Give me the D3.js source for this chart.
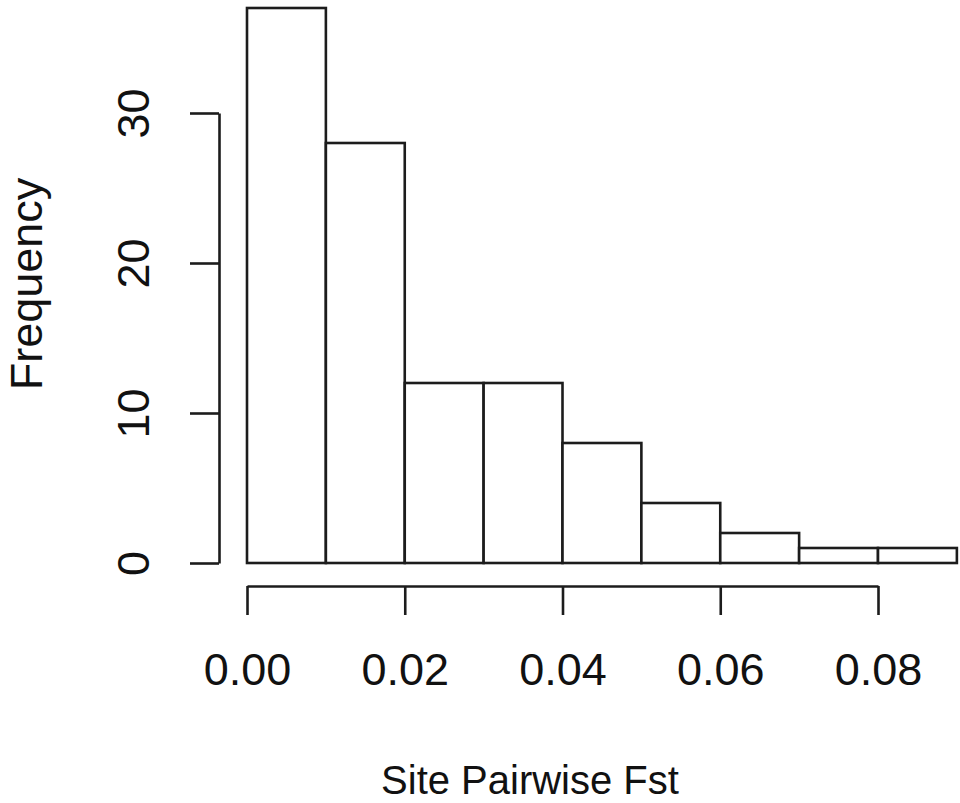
<!DOCTYPE html>
<html>
<head>
<meta charset="utf-8">
<script src="https://cdn.jsdelivr.net/npm/d3@7"></script>
<style>
  body { margin: 0; background: #fff; }
  text { font-family: "Liberation Sans", Arial, Helvetica, sans-serif; fill: #111; }
</style>
</head>
<body>
<div id="main"></div>
<script>
// histogram bins and counts
const binEdges = [0, 0.01, 0.02, 0.03, 0.04, 0.05, 0.06, 0.07, 0.08, 0.09];
const counts = [37, 28, 12, 12, 8, 4, 2, 1, 1];
const xTicks = [0, 0.02, 0.04, 0.06, 0.08];
const yTicks = [0, 10, 20, 30];
const xTitle = "Site Pairwise Fst";
const yTitle = "Frequency";

const width = 960, height = 803;
const lineCol = "#1c1c1c";

const bins = counts.map((c, i) => ({ x0: binEdges[i], x1: binEdges[i + 1], n: c }));

const x = d3.scaleLinear().domain([0, 0.08]).range([247, 878]);
const y = d3.scaleLinear().domain([0, 30]).range([563, 113]);

const svg = d3.select("#main").append("svg").attr("width", width).attr("height", height);

// bars
svg.selectAll("rect.bar").data(bins).enter().append("rect")
  .attr("class", "bar")
  .attr("x", d => x(d.x0))
  .attr("y", d => y(d.n))
  .attr("width", d => x(d.x1) - x(d.x0))
  .attr("height", d => y(0) - y(d.n))
  .attr("fill", "#fff")
  .attr("stroke", lineCol)
  .attr("stroke-width", 2.6);

// x axis
const gx = svg.append("g").attr("transform", "translate(0,586)")
  .call(d3.axisBottom(x).tickValues(xTicks).tickSize(29).tickSizeOuter(0).tickFormat(d3.format(".2f")));
gx.select(".domain").attr("stroke", lineCol).attr("stroke-width", 2.6);
gx.selectAll(".tick line").attr("stroke", lineCol).attr("stroke-width", 2.6);
gx.selectAll(".tick text")
  .attr("y", 99).attr("dy", 0)
  .style("font-size", "45px").attr("fill", "#111");

// y axis
const gy = svg.append("g").attr("transform", "translate(219,0)")
  .call(d3.axisLeft(y).tickValues(yTicks).tickSize(29).tickSizeOuter(0));
gy.select(".domain").attr("stroke", lineCol).attr("stroke-width", 2.6);
gy.selectAll(".tick line").attr("stroke", lineCol).attr("stroke-width", 2.6);
gy.selectAll(".tick text")
  .attr("x", 0).attr("dy", 0).attr("y", 0)
  .attr("transform", "translate(-70,0) rotate(-90)")
  .attr("text-anchor", "middle")
  .style("font-size", "45px").attr("fill", "#111");

// axis titles
svg.append("text")
  .attr("x", 530).attr("y", 794)
  .attr("text-anchor", "middle")
  .style("font-size", "40px")
  .text(xTitle);

svg.append("text")
  .attr("transform", "translate(42,284) rotate(-90)")
  .attr("text-anchor", "middle")
  .style("font-size", "45px")
  .text(yTitle);
</script>
</body>
</html>
